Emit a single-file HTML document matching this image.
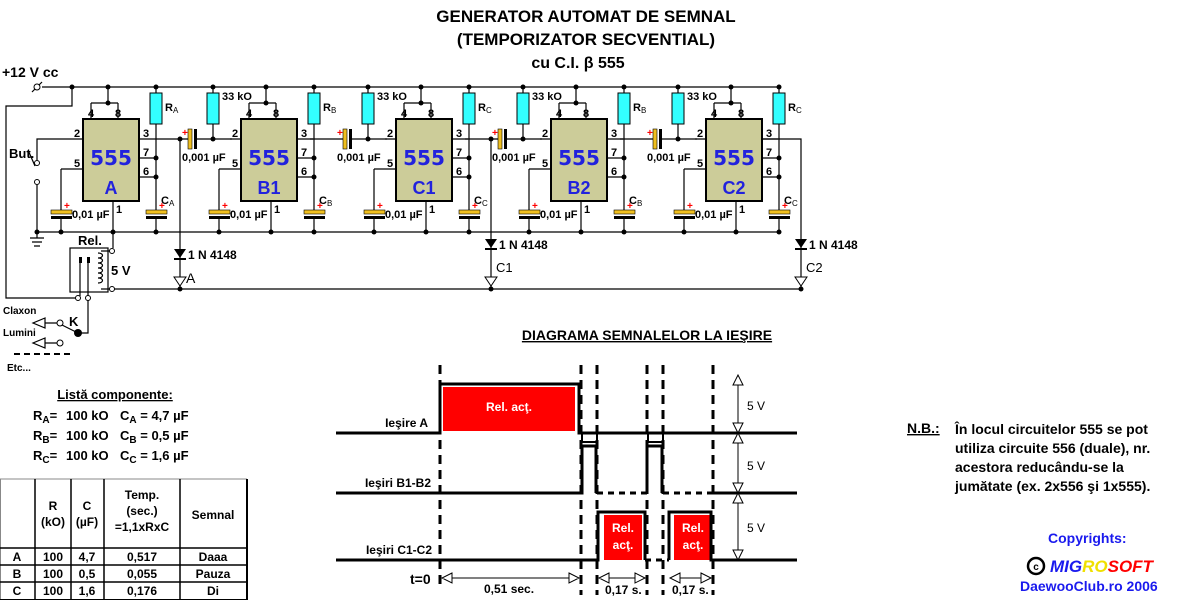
<!DOCTYPE html>
<html><head><meta charset="utf-8"><style>
html,body{margin:0;padding:0;background:#fff;width:1200px;height:600px;overflow:hidden}
svg{display:block;font-family:"Liberation Sans",sans-serif;font-weight:bold}
.w{stroke:#000;stroke-width:1.2;fill:none}
.t{font-size:11px}
</style></head><body>
<svg width="1200" height="600" viewBox="0 0 1200 600">
<!-- Title -->
<text x="586" y="22" font-size="17" text-anchor="middle">GENERATOR AUTOMAT DE SEMNAL</text>
<text x="586" y="45" font-size="17" text-anchor="middle">(TEMPORIZATOR SECVENTIAL)</text>
<text x="578" y="68" font-size="16" text-anchor="middle">cu  C.I.  β 555</text>
<text x="2" y="77" font-size="14">+12 V cc</text>

<!-- rails -->
<path class="w" d="M42 87H778 M37 232H778 M112 289H801 M72 87V106H6V298H76"/>
<path class="w" d="M32 92L42 82"/><circle cx="37" cy="87" r="3" fill="#fff" stroke="#000"/>
<circle cx="72" cy="87" r="2.5"/>
<!-- ground -->
<path class="w" d="M37 232V238 M30 238H44 M32 242H42 M34 246H40" stroke-width="2"/>
<!-- button -->
<path class="w" d="M72 139H37V160 M37 185V232 M35 166L28 150"/>
<circle cx="37" cy="163" r="2.5" fill="#fff" stroke="#000"/><circle cx="37" cy="182" r="2.5" fill="#fff" stroke="#000"/>
<circle cx="37" cy="232" r="2.5"/>
<text x="9" y="158" font-size="13">But.</text>
<!-- relay -->
<text x="78" y="245" font-size="13">Rel.</text>
<rect x="70" y="248" width="38" height="44" class="w"/>
<path class="w" d="M113 232V248 M80 258V296 M88 258V296 M101 251H110 M101 289H110"/>
<path d="M79 257h3v6h-3z M87 257h3v6h-3z"/>
<path class="w" d="M98 253c6 0 6 5 0 5c6 0 6 5 0 5c6 0 6 5 0 5c6 0 6 5 0 5c6 0 6 5 0 5c6 0 6 5 0 5"/>
<circle cx="112" cy="251" r="2.5" fill="#fff" stroke="#000"/><circle cx="112" cy="289" r="2.5" fill="#fff" stroke="#000"/>
<text x="111" y="275" font-size="13">5 V</text>
<circle cx="78" cy="298" r="2.5" fill="#fff" stroke="#000"/><circle cx="88" cy="298" r="2.5" fill="#fff" stroke="#000"/>
<path class="w" d="M88 300V333H79 M78 333L62 325 M45 323H57 M45 343H57"/>
<circle cx="78" cy="333" r="4"/>
<circle cx="60" cy="323" r="3" fill="#fff" stroke="#000"/><circle cx="60" cy="343" r="3" fill="#fff" stroke="#000"/>
<path class="w" d="M45 318L33 323L45 328Z M45 338L33 343L45 348Z"/>
<text x="3" y="314" font-size="10">Claxon</text>
<text x="3" y="336" font-size="10">Lumini</text>
<text x="69" y="326" font-size="13">K</text>
<path d="M14 354H74" stroke="#000" stroke-width="2" stroke-dasharray="6 4"/>
<text x="7" y="371" font-size="10">Etc...</text>

<!-- Stage template (A) -->
<g id="sA">
<rect x="83" y="119" width="56" height="82" fill="#cccc99" stroke="#000" stroke-width="2"/>
<path class="w" d="M91 103V119 M118 103V119 M91 103H118 M108 87V103 M72 139H83 M61 169H83 M61 169V211 M61 219V232 M113 201V232 M139 139H155 M139 158H156 M139 177H156 M156 87V93 M156 124V211 M156 219V232" stroke-width="1.5"/>
<rect x="150" y="93" width="12" height="31" fill="#33ffff" stroke="#000"/>
<rect x="51" y="210" width="21" height="4" fill="#f0c020" stroke="#000" stroke-width=".6"/><rect x="51" y="216" width="21" height="3"/>
<rect x="146" y="210" width="21" height="4" fill="#f0c020" stroke="#000" stroke-width=".6"/><rect x="146" y="216" width="21" height="3"/>
<circle cx="108" cy="87" r="2.5"/><circle cx="108" cy="103" r="2.5"/><circle cx="156" cy="87" r="2.5"/><circle cx="156" cy="158" r="2.5"/><circle cx="156" cy="177" r="2.5"/><circle cx="61" cy="232" r="2.5"/><circle cx="113" cy="232" r="2.5"/><circle cx="156" cy="232" r="2.5"/>
<text class="t" x="88" y="117">4</text><text class="t" x="115" y="117">8</text><text class="t" x="74" y="137">2</text><text class="t" x="74" y="167">5</text><text class="t" x="143" y="137">3</text><text class="t" x="143" y="156">7</text><text class="t" x="143" y="175">6</text><text class="t" x="116" y="213">1</text>
<text x="111" y="165" font-size="20" fill="#2222dd" text-anchor="middle" font-family="DejaVu Sans" font-weight="bold">555</text>
<text x="64" y="209" fill="#f00" font-size="10">+</text><text x="72" y="218" class="t">0,01 µF</text>
<text x="159" y="209" fill="#f00" font-size="10">+</text>
</g>
<text x="111" y="194" font-size="18" fill="#2222dd" text-anchor="middle">A</text>
<text x="165" y="111" class="t">R<tspan font-size="8" font-weight="normal" dy="2">A</tspan></text>
<text x="161" y="204" class="t">C<tspan font-size="8" font-weight="normal" dy="2">A</tspan></text>

<g transform="translate(158,0)"><use href="#sA"/>
<text x="111" y="194" font-size="18" fill="#2222dd" text-anchor="middle">B1</text>
<text x="165" y="111" class="t">R<tspan font-size="8" font-weight="normal" dy="2">B</tspan></text>
<text x="161" y="204" class="t">C<tspan font-size="8" font-weight="normal" dy="2">B</tspan></text></g>
<g transform="translate(313,0)"><use href="#sA"/>
<text x="111" y="194" font-size="18" fill="#2222dd" text-anchor="middle">C1</text>
<text x="165" y="111" class="t">R<tspan font-size="8" font-weight="normal" dy="2">C</tspan></text>
<text x="161" y="204" class="t">C<tspan font-size="8" font-weight="normal" dy="2">C</tspan></text></g>
<g transform="translate(468,0)"><use href="#sA"/>
<text x="111" y="194" font-size="18" fill="#2222dd" text-anchor="middle">B2</text>
<text x="165" y="111" class="t">R<tspan font-size="8" font-weight="normal" dy="2">B</tspan></text>
<text x="161" y="204" class="t">C<tspan font-size="8" font-weight="normal" dy="2">B</tspan></text></g>
<g transform="translate(623,0)"><use href="#sA"/>
<text x="111" y="194" font-size="18" fill="#2222dd" text-anchor="middle">C2</text>
<text x="165" y="111" class="t">R<tspan font-size="8" font-weight="normal" dy="2">C</tspan></text>
<text x="161" y="204" class="t">C<tspan font-size="8" font-weight="normal" dy="2">C</tspan></text></g>

<!-- couplings -->
<g id="cp">
<path class="w" d="M155 139H189 M197 139H232 M213 87V93 M213 124V139" stroke-width="1.5"/>
<rect x="188" y="129" width="4" height="20" fill="#f0c020" stroke="#000" stroke-width=".6"/><rect x="194" y="129" width="3" height="20"/>
<rect x="207" y="93" width="12" height="31" fill="#33ffff" stroke="#000"/>
<circle cx="213" cy="139" r="2.5"/><circle cx="213" cy="87" r="2.5"/>
<text x="222" y="100" class="t">33 kO</text>
<text x="182" y="136" fill="#f00" font-size="10">+</text>
<text x="182" y="161" class="t">0,001 µF</text>
</g>
<g transform="translate(155,0)"><use href="#cp"/></g>
<g transform="translate(310,0)"><use href="#cp"/></g>
<g transform="translate(465,0)"><use href="#cp"/></g>
<path class="w" d="M762 139H801V289" stroke-width="1.5"/>

<!-- diodes -->
<path class="w" d="M180 139V289 M491 139V289" stroke-width="1.5"/>
<circle cx="180" cy="139" r="2.5"/><circle cx="180" cy="289" r="2.5"/>
<circle cx="491" cy="139" r="2.5"/><circle cx="491" cy="289" r="2.5"/><circle cx="801" cy="289" r="2.5"/>
<path d="M174 249H186L180 258Z M485 239H497L491 248Z M795 239H807L801 248Z"/>
<path d="M174 259H186 M485 249H497 M795 249H807" stroke="#000" stroke-width="2"/>
<path d="M174 277H186L180 286Z M485 277H497L491 286Z M795 277H807L801 286Z" fill="#fff" stroke="#000"/>
<text x="188" y="259" font-size="12">1 N 4148</text>
<text x="499" y="249" font-size="12">1 N 4148</text>
<text x="809" y="249" font-size="12">1 N 4148</text>
<text x="186" y="283" font-size="14" font-weight="normal">A</text>
<text x="496" y="272" font-size="13" font-weight="normal">C1</text>
<text x="806" y="272" font-size="13" font-weight="normal">C2</text>

<!-- component list -->
<text x="115" y="399" font-size="13" text-anchor="middle" text-decoration="underline">Listă componente:</text>
<g font-size="13">
<text x="33" y="420">R<tspan font-size="10" dy="3">A</tspan><tspan dy="-3">=</tspan></text><text x="66" y="420">100 kO</text><text x="120" y="420">C<tspan font-size="10" dy="3">A</tspan><tspan dy="-3"> =  4,7 µF</tspan></text>
<text x="33" y="440">R<tspan font-size="10" dy="3">B</tspan><tspan dy="-3">=</tspan></text><text x="66" y="440">100 kO</text><text x="120" y="440">C<tspan font-size="10" dy="3">B</tspan><tspan dy="-3"> =  0,5 µF</tspan></text>
<text x="33" y="460">R<tspan font-size="10" dy="3">C</tspan><tspan dy="-3">=</tspan></text><text x="66" y="460">100 kO</text><text x="120" y="460">C<tspan font-size="10" dy="3">C</tspan><tspan dy="-3"> =  1,6 µF</tspan></text>
</g>
<!-- table -->
<g stroke="#000" fill="none">
<rect x="0.5" y="479" width="246" height="121" stroke="#888"/>
<path d="M35 479V600 M71 479V600 M104 479V600 M180 479V600 M0 548H247 M0 565H247 M0 582H247" stroke-width="1.5"/>
<path d="M0 600H247 M247 479V600" stroke-width="2"/>
</g>
<g font-size="12" text-anchor="middle">
<text x="53" y="510">R</text><text x="53" y="526">(kO)</text>
<text x="87" y="510">C</text><text x="87" y="526">(µF)</text>
<text x="142" y="499">Temp.</text><text x="142" y="515">(sec.)</text><text x="142" y="531">=1,1xRxC</text>
<text x="213" y="519">Semnal</text>
<text x="17" y="561">A</text><text x="53" y="561">100</text><text x="87" y="561">4,7</text><text x="142" y="561">0,517</text><text x="213" y="561">Daaa</text>
<text x="17" y="578">B</text><text x="53" y="578">100</text><text x="87" y="578">0,5</text><text x="142" y="578">0,055</text><text x="213" y="578">Pauza</text>
<text x="17" y="595">C</text><text x="53" y="595">100</text><text x="87" y="595">1,6</text><text x="142" y="595">0,176</text><text x="213" y="595">Di</text>
</g>

<!-- timing diagram -->
<text x="647" y="340" font-size="14" text-anchor="middle" text-decoration="underline">DIAGRAMA SEMNALELOR LA IEŞIRE</text>
<rect x="443" y="387" width="132" height="44" fill="#f00"/>
<rect x="604" y="515" width="38" height="45" fill="#f00"/>
<rect x="674" y="515" width="38" height="45" fill="#f00"/>
<g fill="#fff" font-size="12" text-anchor="middle">
<text x="509" y="411">Rel. acţ.</text>
<text x="623" y="532">Rel.</text><text x="623" y="549">acţ.</text>
<text x="693" y="532">Rel.</text><text x="693" y="549">acţ.</text>
</g>
<g fill="none" stroke="#000" stroke-width="3">
<path d="M336 433H440V384H579V433H797"/>
<rect x="582" y="433" width="15" height="9" stroke-width="2"/>
<rect x="648" y="433" width="15" height="9" stroke-width="2"/>
<path d="M336 493H582V446H596V493 M647 493V446H662V493 M713 493H797"/>
<path d="M336 560H598V512H645V560 M669 560V512H711V560H797"/>
<path d="M597 493H647 M663 493H713 M645 560H669" stroke-dasharray="6 5"/>
<path d="M440 365V590 M581 365V595 M597 365V595 M647 365V595 M663 365V595 M713 365V595" stroke-dasharray="9 6"/>
</g>
<g font-size="12" text-anchor="end">
<text x="428" y="427">Ieşire A</text>
<text x="431" y="487">Ieşiri B1-B2</text>
<text x="432" y="554">Ieşiri C1-C2</text>
</g>
<text x="410" y="584" font-size="14">t=0</text>
<g stroke="#000" fill="#fff">
<path d="M738 375V560" fill="none"/>
<path d="M733 385L738 375L743 385Z M733 423L738 433L743 423Z M733 443L738 433L743 443Z M733 483L738 493L743 483Z M733 503L738 493L743 503Z M733 550L738 560L743 550Z"/>
<path d="M442 578H579 M599 578H645 M670 578H711" fill="none"/>
<path d="M452 573L442 578L452 583Z M569 573L579 578L569 583Z M609 573L599 578L609 583Z M635 573L645 578L635 583Z M680 573L670 578L680 583Z M701 573L711 578L701 583Z"/>
</g>
<g font-size="12" font-weight="normal">
<text x="747" y="410">5 V</text><text x="747" y="470">5 V</text><text x="747" y="532">5 V</text>
</g>
<g font-size="12">
<text x="484" y="593">0,51 sec.</text>
<text x="605" y="594">0,17 s.</text>
<text x="672" y="594">0,17 s.</text>
</g>

<!-- N.B. -->
<g font-size="14">
<text x="907" y="433" text-decoration="underline">N.B.:</text>
<text x="955" y="434">În locul circuitelor 555 se pot</text>
<text x="955" y="453">utiliza circuite 556 (duale), nr.</text>
<text x="955" y="472">acestora reducându-se la</text>
<text x="955" y="491">jumătate (ex.  2x556 şi 1x555).</text>
<text x="1048" y="543" fill="#1a1aee">Copyrights:</text>
<text x="1020" y="591" fill="#1a1aee">DaewooClub.ro 2006</text>
</g>
<circle cx="1036" cy="566" r="8" fill="#fff" stroke="#000" stroke-width="2.5"/>
<text x="1036" y="570" font-size="10" text-anchor="middle">c</text>
<text x="1050" y="572" font-size="17" font-style="italic"><tspan fill="#1a1aee">MIG</tspan><tspan fill="#f0e000">RO</tspan><tspan fill="#f00">SOFT</tspan></text>
</svg>
</body></html>
